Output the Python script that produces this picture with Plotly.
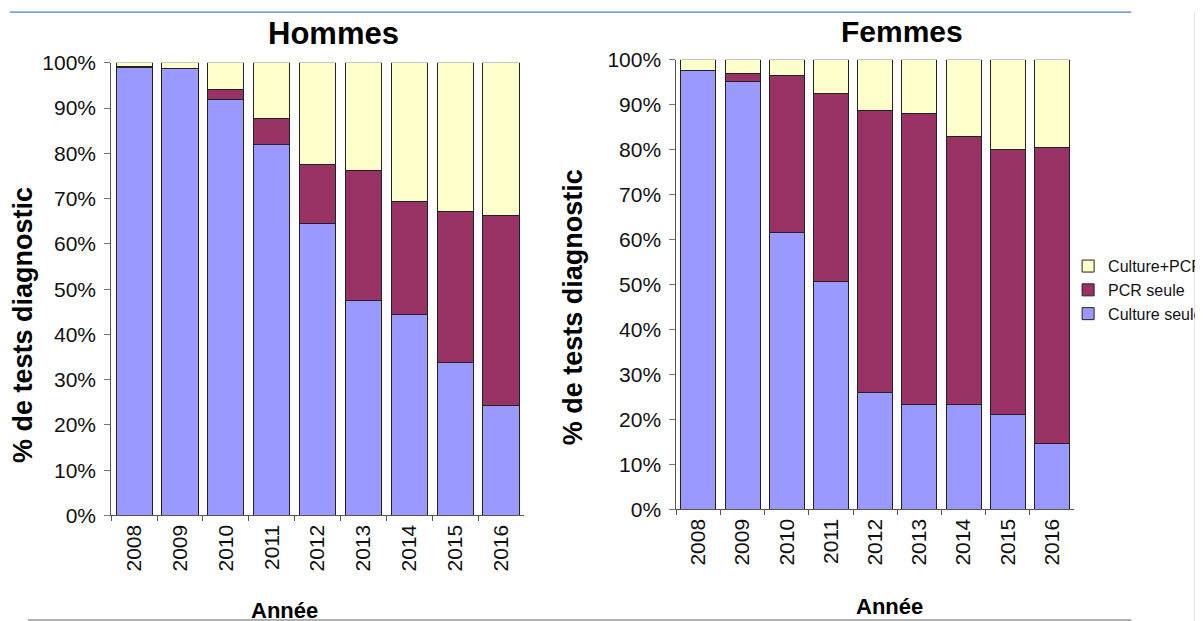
import plotly.graph_objects as go

W, H = 1203, 621

years = ['2008', '2009', '2010', '2011', '2012', '2013', '2014', '2015', '2016']

# Hommes (% of diagnostic tests)
h_culture = [98.9, 98.8, 91.8, 82.0, 64.5, 47.6, 44.5, 33.8, 24.2]
h_pcr = [0.3, 0.0, 2.4, 5.6, 13.1, 28.6, 24.9, 33.4, 42.1]
h_both = [0.8, 1.2, 5.8, 12.4, 22.4, 23.8, 30.6, 32.8, 33.7]

# Femmes
f_culture = [97.6, 95.2, 61.7, 50.8, 26.1, 23.4, 23.4, 21.1, 14.6]
f_pcr = [0.0, 1.8, 34.8, 41.8, 62.6, 64.7, 59.5, 58.9, 66.0]
f_both = [2.4, 3.0, 3.5, 7.4, 11.3, 11.9, 17.1, 20.0, 19.4]

series_names = ['Culture seule', 'PCR seule', 'Culture+PCR']
colors = ['#9999FF', '#993366', '#FFFFCC']

FONT = 'Liberation Sans, Arial, Helvetica, sans-serif'


# pixel -> paper fraction (small correction for the page offset seen in the output)
def px(x):
    return ((x - 8) / 0.998) / W


def py(y):
    return 1 - ((y - 18) / 0.966) / H


fig = go.Figure()

for i, (name, vals) in enumerate(zip(series_names, [h_culture, h_pcr, h_both])):
    fig.add_trace(go.Bar(
        x=years, y=vals, name=name, xaxis='x', yaxis='y',
        marker=dict(color=colors[i], line=dict(color='#222', width=1)),
        legendgroup=name, showlegend=True
    ))

for i, (name, vals) in enumerate(zip(series_names, [f_culture, f_pcr, f_both])):
    fig.add_trace(go.Bar(
        x=years, y=vals, name=name, xaxis='x2', yaxis='y2',
        marker=dict(color=colors[i], line=dict(color='#222', width=1)),
        legendgroup=name, showlegend=False
    ))

xaxis_style = dict(
    type='category', showline=True, linecolor='#555', linewidth=1,
    ticks='outside', tickson='boundaries', ticklen=5, tickcolor='#555',
    tickangle=-90, tickfont=dict(family=FONT, size=21, color='#111'),
    showgrid=False, fixedrange=True
)
yaxis_style = dict(
    range=[0, 100], dtick=10, ticksuffix='%', showline=True, linecolor='#555',
    linewidth=1, ticks='outside', ticklen=6, tickcolor='#777',
    tickfont=dict(family=FONT, size=21, color='#111'),
    showgrid=False, zeroline=False, ticklabelstandoff=4
)

fig.update_layout(
    width=W, height=H,
    margin=dict(l=0, r=0, t=0, b=0),
    paper_bgcolor='white', plot_bgcolor='white',
    barmode='stack', bargap=0.21,
    xaxis=dict(domain=[px(111), px(523)], anchor='y', **xaxis_style),
    yaxis=dict(domain=[py(515), py(61)], anchor='x', **yaxis_style),
    xaxis2=dict(domain=[px(675), px(1072)], anchor='y2', **xaxis_style),
    yaxis2=dict(domain=[py(509), py(58)], anchor='x2', **yaxis_style),
    legend=dict(
        x=px(1066), y=py(289), xanchor='left', yanchor='middle',
        traceorder='reversed', itemwidth=30, tracegroupgap=0,
        font=dict(family=FONT, size=16, color='#111'),
        bgcolor='rgba(0,0,0,0)'
    ),
    showlegend=True,
)

annotations = [
    ('<b>Hommes</b>', 333, 32, 0, 31),
    ('<b>Femmes</b>', 900, 30, 0, 30),
    ('<b>% de tests diagnostic</b>', 23, 324, -90, 27),
    ('<b>% de tests diagnostic</b>', 572, 306, -90, 27),
    ('<b>Année</b>', 284, 610, 0, 22),
    ('<b>Année</b>', 888, 606, 0, 22),
]
for text, x, y, angle, size in annotations:
    fig.add_annotation(
        text=text, x=px(x), y=py(y), xref='paper', yref='paper',
        xanchor='center', yanchor='middle', showarrow=False, textangle=angle,
        font=dict(family=FONT, size=size, color='#000')
    )

# frame lines of the original slide
fig.add_shape(type='line', xref='paper', yref='paper', x0=px(10), x1=px(1129),
              y0=py(10), y1=py(10), line=dict(color='#4f7fd4', width=1.3))
fig.add_shape(type='line', xref='paper', yref='paper', x0=px(28), x1=px(1129),
              y0=py(620), y1=py(620), line=dict(color='#999', width=1.5))
fig.add_shape(type='line', xref='paper', yref='paper', x0=px(1193), x1=px(1193),
              y0=py(10), y1=py(621), line=dict(color='#bbb', width=1.5))

fig.write_html("out.html")
